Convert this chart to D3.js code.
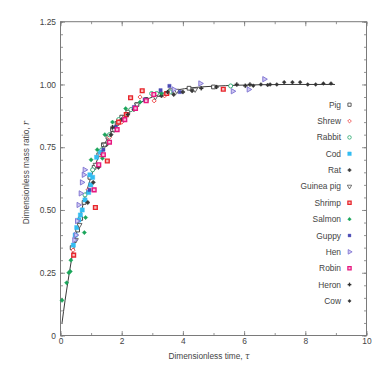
<!DOCTYPE html>
<html><head><meta charset="utf-8">
<script src="https://cdn.jsdelivr.net/npm/d3@7"></script>
<style>
html,body{margin:0;padding:0;background:#fff;}
text{font-family:"Liberation Sans",Arial,Helvetica,sans-serif;}
</style></head>
<body><div id="chart"></div>
<script>
// ---------- data ----------
const xTicks = [0, 2, 4, 6, 8, 10];
const yTicks = [0, 0.25, 0.5, 0.75, 1.0, 1.25];
const yTickLabels = ["0", "0.25", "0.50", "0.75", "1.00", "1.25"];
const xTitle = "Dimensionless time, ";
const yTitle = "Dimensionless mass ratio, ";

const fitTau = [0.05, 0.15, 0.25, 0.35, 0.5, 0.65, 0.8, 1.0, 1.2, 1.4, 1.6, 1.8, 2.0, 2.3, 2.6, 3.0, 3.4, 3.8, 4.3, 5.0, 5.8, 6.6, 7.5, 8.3, 8.97];
const fitR   = [0.05, 0.14, 0.22, 0.295, 0.393, 0.478, 0.551, 0.632, 0.699, 0.753, 0.798, 0.835, 0.865, 0.900, 0.926, 0.950, 0.967, 0.978, 0.987, 0.993, 0.997, 0.999, 1.0, 1.0, 1.0];

const species = ["Pig","Shrew","Rabbit","Cod","Rat","Guinea pig","Shrimp","Salmon","Guppy","Hen","Robin","Heron","Cow"];

const pig = [[0.38,0.35],[0.56,0.42],[0.66,0.466],[0.77,0.53],[0.96,0.63],[1.1,0.67],[1.25,0.72],[1.4,0.76],[1.55,0.79],[1.7,0.82],[1.85,0.845],[2.0,0.87],[2.2,0.89],[2.5,0.92],[2.8,0.94],[3.2,0.96],[3.6,0.975],[4.2,0.985],[5.0,0.99]];
const shrew = [[0.41,0.34],[0.9,0.58],[1.3,0.72],[1.6,0.79],[2.0,0.85],[2.3,0.90],[2.6,0.95],[3.06,0.935],[3.4,0.955]];
const rabbit = [[0.8,0.56],[1.05,0.66],[1.35,0.74],[1.6,0.80],[1.9,0.86],[2.3,0.90],[2.98,0.964],[3.14,0.964],[3.58,0.97],[5.56,0.994]];
const cod = [[0.42,0.36],[0.48,0.40],[0.53,0.43],[0.6,0.46],[0.65,0.48],[0.71,0.50],[0.8,0.54],[0.92,0.57],[0.96,0.64],[0.99,0.60],[1.05,0.63],[1.18,0.71],[1.3,0.73]];
const rat = [[0.89,0.53],[1.07,0.61],[1.24,0.67],[1.37,0.72],[1.5,0.76],[1.65,0.80],[1.8,0.83],[2.0,0.86],[2.4,0.90],[2.8,0.94],[3.3,0.955],[3.7,0.96],[4.3,0.975]];
const guineaPig = [[0.5,0.38],[0.62,0.44],[1.15,0.68],[1.45,0.76],[1.75,0.82],[2.1,0.87],[2.5,0.92],[3.1,0.95],[3.8,0.975],[4.4,0.98]];
const shrimp = [[0.43,0.32],[1.14,0.51],[1.53,0.695],[1.9,0.85],[2.15,0.88],[2.29,0.947],[2.67,0.975],[3.47,0.964],[5.32,0.981]];
const salmon = [[0.05,0.14],[0.2,0.21],[0.27,0.25],[0.32,0.255],[0.34,0.30],[0.78,0.41],[0.82,0.47],[1.0,0.70],[1.37,0.706],[1.2,0.74],[1.45,0.80],[1.7,0.85],[2.13,0.904],[2.6,0.93],[3.3,0.965]];
const guppy = [[0.95,0.58],[1.4,0.74],[1.8,0.83],[2.4,0.91],[2.75,0.94],[3.27,0.977],[3.56,0.994],[3.9,0.97]];
const hen = [[0.45,0.38],[0.5,0.40],[0.54,0.456],[0.59,0.52],[0.66,0.566],[0.70,0.61],[0.76,0.64],[0.79,0.66],[3.7,0.98],[4.57,1.004],[5.63,0.973],[6.15,0.98],[6.66,1.021]];
const robin = [[1.1,0.58],[1.25,0.68],[1.4,0.72],[1.6,0.77],[1.85,0.82],[2.1,0.86],[2.45,0.905],[2.8,0.935],[3.05,0.96]];
const heron = [[1.7,0.83],[2.2,0.88],[3.5,0.97],[4.0,0.97],[4.6,0.985],[5.1,0.99],[5.76,1.0],[6.04,0.995],[6.19,1.0]];
const cow = [[6.3,0.995],[6.55,1.0],[6.77,0.998],[6.85,1.0],[7.07,1.0],[7.31,1.009],[7.58,1.009],[7.83,1.009],[8.08,1.0],[8.34,1.0],[8.59,1.004],[8.84,1.004]];

const seriesData = [pig, shrew, rabbit, cod, rat, guineaPig, shrimp, salmon, guppy, hen, robin, heron, cow];

// ---------- styles ----------
const styles = [
  {sym:d3.symbolSquare,  fill:"#fff",    stroke:"#3a3a3a", sw:0.9, size:14},
  {sym:d3.symbolSquare,  fill:"#fff",    stroke:"#ee4a4a", sw:0.9, size:9,  rot:45},
  {sym:d3.symbolCircle,  fill:"#fff",    stroke:"#27a86e", sw:0.9, size:13},
  {sym:d3.symbolSquare,  fill:"#33bdf2", stroke:"#33bdf2", sw:0.4, size:18},
  {sym:d3.symbolSquare,  fill:"#3a3a3a", stroke:"#3a3a3a", sw:0.4, size:10, rot:45},
  {sym:d3.symbolTriangle,fill:"#fff",    stroke:"#555",    sw:0.9, size:11, rot:180},
  {sym:d3.symbolSquare,  fill:"#f6c0c0", stroke:"#e8262c", sw:1.4, size:14},
  {sym:d3.symbolSquare,  fill:"#1aa55a", stroke:"#1aa55a", sw:0.4, size:9,  rot:45},
  {sym:d3.symbolSquare,  fill:"#4a4ab4", stroke:"#4a4ab4", sw:0.4, size:11},
  {sym:d3.symbolTriangle,fill:"#cfc8f2", stroke:"#7b6fd0", sw:0.9, size:12, rot:90},
  {sym:d3.symbolSquare,  fill:"#f8c0dc", stroke:"#e6177f", sw:1.4, size:14},
  {sym:d3.symbolCross,   fill:"#333",    stroke:"#333",    sw:0.2, size:9},
  {sym:d3.symbolSquare,  fill:"#333",    stroke:"#333",    sw:0.3, size:8,  rot:45}
];

// ---------- layout ----------
const W = 387, H = 368;
const m = {left:60.5, right:20.5, top:21.7, bottom:32.5};
const svg = d3.select("#chart").append("svg").attr("width", W).attr("height", H);

const x = d3.scaleLinear().domain([0,10]).range([m.left, W - m.right]);
const y = d3.scaleLinear().domain([0,1.25]).range([H - m.bottom, m.top]);

const axisColor = "#7a7a7a", textColor = "#444";

function styleAxis(g){
  g.select(".domain").remove();
  g.selectAll("line").attr("stroke", axisColor).attr("stroke-width", 0.8);
  g.selectAll("text").attr("fill", textColor).attr("font-size", 8.4);
}

// minor ticks
const yMinor = d3.range(0, 1.2501, 0.05).map(v => +v.toFixed(2));
const xMinor = d3.range(0, 10.01, 1);

svg.append("g").attr("transform", `translate(${m.left},0)`)
  .call(d3.axisLeft(y).tickValues(yMinor).tickSize(-2.5).tickFormat(""))
  .call(styleAxis);
svg.append("g").attr("transform", `translate(${W - m.right},0)`)
  .call(d3.axisRight(y).tickValues(yMinor).tickSize(-2.5).tickFormat(""))
  .call(styleAxis);
svg.append("g").attr("transform", `translate(0,${H - m.bottom})`)
  .call(d3.axisBottom(x).tickValues(xMinor).tickSize(-2.5).tickFormat(""))
  .call(styleAxis);
svg.append("g").attr("transform", `translate(0,${m.top})`)
  .call(d3.axisTop(x).tickValues(xMinor).tickSize(-2.5).tickFormat(""))
  .call(styleAxis);

// major ticks with labels
svg.append("g").attr("transform", `translate(${m.left},0)`)
  .call(d3.axisLeft(y).tickValues(yTicks).tickSize(-4.5).tickPadding(4.5)
        .tickFormat((d,i) => yTickLabels[i]))
  .call(styleAxis);
svg.append("g").attr("transform", `translate(${W - m.right},0)`)
  .call(d3.axisRight(y).tickValues(yTicks).tickSize(-4.5).tickFormat(""))
  .call(styleAxis);
svg.append("g").attr("transform", `translate(0,${H - m.bottom})`)
  .call(d3.axisBottom(x).tickValues(xTicks).tickSize(-4.5).tickPadding(3))
  .call(styleAxis);
svg.append("g").attr("transform", `translate(0,${m.top})`)
  .call(d3.axisTop(x).tickValues(xTicks).tickSize(-4.5).tickFormat(""))
  .call(styleAxis);

// frame
svg.append("rect").attr("x", m.left).attr("y", m.top)
  .attr("width", W - m.left - m.right).attr("height", H - m.top - m.bottom)
  .attr("fill", "none").attr("stroke", axisColor).attr("stroke-width", 1);

// axis titles
const xt = svg.append("text").attr("x", 209).attr("y", 359)
  .attr("text-anchor","middle").attr("font-size", 8.3).attr("fill", textColor).text(xTitle);
xt.append("tspan").attr("font-style","italic").attr("font-family","DejaVu Serif, serif").text("τ");
const yt = svg.append("text")
  .attr("transform", `translate(28.5,${(m.top + H - m.bottom)/2 - 6}) rotate(-90)`)
  .attr("text-anchor","middle").attr("font-size", 8.3).attr("fill", textColor).text(yTitle);
yt.append("tspan").attr("font-style","italic").attr("font-family","DejaVu Serif, serif").text("r");

// fit curve
const line = d3.line().x((d,i) => x(fitTau[i])).y(d => y(d)).curve(d3.curveMonotoneX);
svg.append("path").datum(fitR).attr("d", line)
  .attr("fill","none").attr("stroke","#3a3a3a").attr("stroke-width",1);

// points
seriesData.forEach((data, si) => {
  const s = styles[si];
  const sym = d3.symbol().type(s.sym).size(s.size);
  svg.append("g").selectAll("path").data(data).join("path")
    .attr("d", sym)
    .attr("transform", d => `translate(${x(d[0])},${y(d[1])})${s.rot ? ` rotate(${s.rot})` : ""}`)
    .attr("fill", s.fill).attr("stroke", s.stroke).attr("stroke-width", s.sw);
});

// legend
const legY0 = 104.7, legDy = 16.35;
species.forEach((name, i) => {
  const s = styles[i];
  const yy = legY0 + i * legDy;
  svg.append("text").attr("x", 341).attr("y", yy + 3)
    .attr("text-anchor","end").attr("font-size", 8.4).attr("fill", textColor).text(name);
  svg.append("path").attr("d", d3.symbol().type(s.sym).size(s.size * 0.75))
    .attr("transform", `translate(349.5,${yy})${s.rot ? ` rotate(${s.rot})` : ""}`)
    .attr("fill", s.fill).attr("stroke", s.stroke).attr("stroke-width", s.sw * 0.9);
});
</script>
</body></html>
